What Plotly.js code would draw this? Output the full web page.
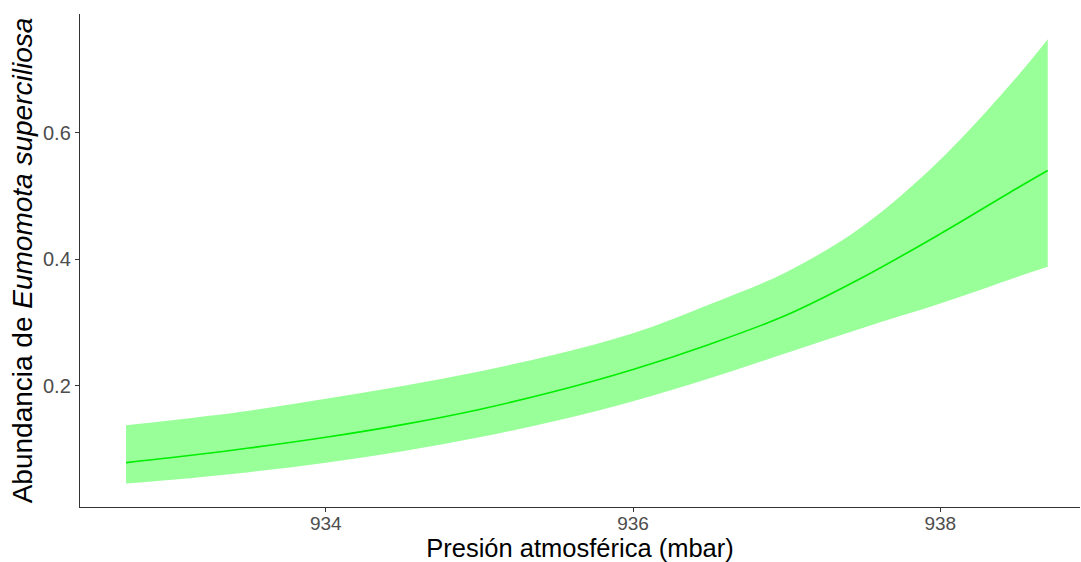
<!DOCTYPE html>
<html>
<head>
<meta charset="utf-8">
<script src="https://cdn.plot.ly/plotly-3.0.1.min.js"></script>
<style>html,body{margin:0;padding:0;background:#fff;}#chart{width:1081px;height:562px;}</style>
</head>
<body>
<div id="chart"></div>
<script>
// Atmospheric pressure (mbar)
const pressure = [932.7, 933.0, 933.5, 934.0, 934.5, 935.0, 935.5, 936.0, 936.5, 937.0, 937.5, 938.0, 938.5, 938.7];
// Fitted abundance
const fitted   = [0.079, 0.087, 0.102, 0.119, 0.139, 0.163, 0.192, 0.226, 0.266, 0.312, 0.372, 0.440, 0.512, 0.540];
// Confidence band
const upper    = [0.138, 0.146, 0.161, 0.180, 0.200, 0.223, 0.250, 0.283, 0.329, 0.380, 0.453, 0.557, 0.688, 0.747];
const lower    = [0.046, 0.052, 0.064, 0.079, 0.097, 0.119, 0.145, 0.176, 0.212, 0.252, 0.292, 0.330, 0.372, 0.388];
const xTicks = [934, 936, 938];
const yTicks = [0.2, 0.4, 0.6];

const traces = [
  {x: pressure, y: lower, type: 'scatter', mode: 'lines', line: {width: 0, color: 'rgba(0,0,0,0)', shape: 'spline', smoothing: 1}, hoverinfo: 'skip', showlegend: false},
  {x: pressure, y: upper, type: 'scatter', mode: 'lines', fill: 'tonexty', fillcolor: 'rgb(153,255,153)', line: {width: 0, color: 'rgba(0,0,0,0)', shape: 'spline', smoothing: 1}, hoverinfo: 'skip', showlegend: false},
  {x: pressure, y: fitted, type: 'scatter', mode: 'lines', line: {width: 1.6, color: 'rgb(0,238,0)', shape: 'spline', smoothing: 1}, showlegend: false}
];

const layout = {
  width: 1081, height: 562,
  margin: {l: 80, r: 1, t: 14, b: 55},
  paper_bgcolor: '#fff', plot_bgcolor: '#fff',
  font: {family: 'Liberation Sans, Arial, sans-serif'},
  showlegend: false,
  xaxis: {
    range: [932.40, 938.91], tickvals: xTicks, ticktext: xTicks.map(String),
    showgrid: false, zeroline: false, showline: true, linecolor: '#333', linewidth: 1.2,
    ticks: 'outside', ticklen: 4, tickcolor: '#333', tickwidth: 1,
    tickfont: {size: 19, color: '#4d4d4d'}, ticklabelstandoff: -5,
    title: {text: 'Presión atmosférica (mbar)', font: {size: 25.5, color: '#000'}, standoff: 5},
    automargin: false
  },
  yaxis: {
    range: [0.009, 0.787], tickvals: yTicks, ticktext: yTicks.map(v => v.toFixed(1)),
    showgrid: false, zeroline: false, showline: true, linecolor: '#333', linewidth: 1.2,
    ticks: 'outside', ticklen: 4, tickcolor: '#333', tickwidth: 1,
    tickfont: {size: 20, color: '#4d4d4d'},
    title: {text: 'Abundancia de <i>Eumomota superciliosa</i>', font: {size: 28, color: '#000'}, standoff: 2},
    automargin: false
  }
};

Plotly.newPlot('chart', traces, layout, {displayModeBar: false, staticPlot: true});
</script>
</body>
</html>
